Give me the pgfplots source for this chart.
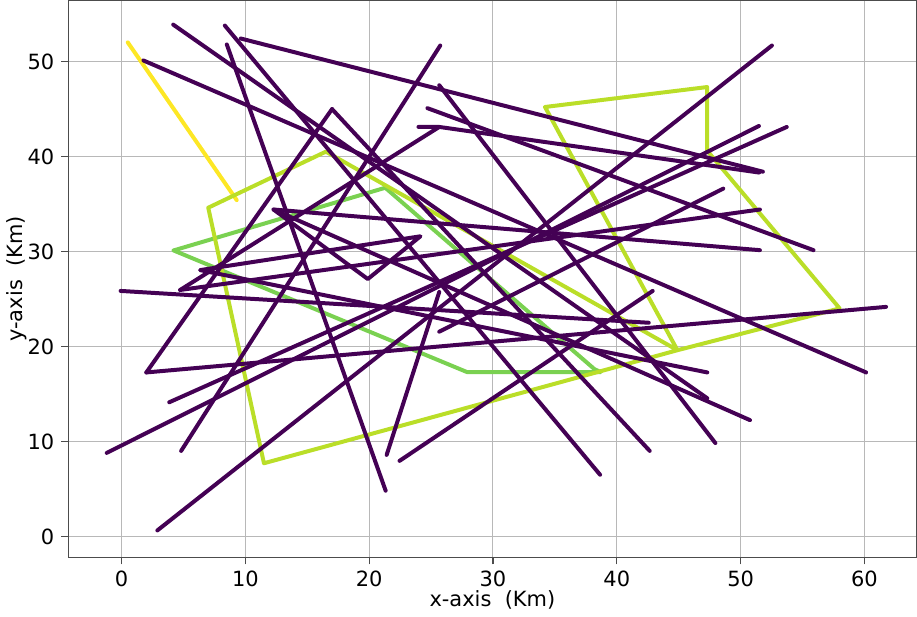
\documentclass[border=0pt]{standalone}
\usepackage{fontspec}
\setmainfont{DejaVu Sans}
\usepackage{pgfplots}
\pgfplotsset{compat=1.18}

\definecolor{vpurple}{HTML}{440154}
\definecolor{vyellow}{HTML}{FDE725}
\definecolor{vlime}{HTML}{BADE28}
\definecolor{vgreen}{HTML}{7AD151}

\begin{document}
\begin{tikzpicture}
\begin{axis}[
  scale only axis, width=425pt, height=279pt,
  xmin=-4.3, xmax=64.2, ymin=-2.2, ymax=56.4,
  xtick={0,10,...,60}, ytick={0,10,...,50},
  grid=major, grid style={line width=0.5pt, color=black!28},
  axis line style={line width=0.6pt, color=black!70},
  tick style={line width=0.6pt, color=black!70},
  tick align=outside, tick pos=left,
  major tick length=3.5pt,
  /pgf/number format/assume math mode=true,
  tick label style={font=\fontsize{10.5}{12}\selectfont},
  label style={font=\fontsize{10.5}{12}\selectfont},
  xlabel={x-axis\ \ (Km)}, ylabel={y-axis\ \ (Km)},
  xlabel style={yshift=5pt}, ylabel style={yshift=-6.5pt},
  every axis plot/.append style={line width=2pt, line cap=round, line join=round},
  p/.style={vpurple},
]
% coloured routes
\addplot[vyellow] coordinates {(0.5,52.0) (9.3,35.4)};
\addplot[vgreen] coordinates {(4.2,30.1) (21.3,36.7) (38.2,17.6) (38.7,17.3) (27.9,17.3) (4.2,30.1)};
\addplot[vlime] coordinates {(7.0,34.6) (16.5,40.5) (44.9,19.6) (34.2,45.2) (47.3,47.3) (47.3,40.6) (58.0,24.0) (44.9,19.6) (11.5,7.7) (7.0,34.6)};
% purple routes
\addplot[p] coordinates {(4.17,53.87) (47.31,14.54)};
\addplot[p] coordinates {(8.34,53.77) (38.65,6.49)};
\addplot[p] coordinates {(8.50,51.78) (21.33,4.81)};
\addplot[p] coordinates {(9.62,52.41) (51.80,38.39)};
\addplot[p] coordinates {(1.76,50.10) (60.14,17.26)};
\addplot[p] coordinates {(25.74,51.67) (4.81,9.00)};
\addplot[p] coordinates {(52.53,51.67) (2.89,0.63)};
\addplot[p] coordinates {(17.00,44.98) (2.00,17.26)};
\addplot[p] coordinates {(17.00,44.98) (42.66,9.00)};
\addplot[p] coordinates {(25.66,47.49) (47.96,9.83)};
\addplot[p] coordinates {(24.70,45.08) (55.89,30.13)};
\addplot[p] coordinates {(23.98,43.10) (25.66,43.10) (51.50,38.30)};
\addplot[p] coordinates {(25.66,43.10) (4.73,25.94)};
\addplot[p] coordinates {(51.48,43.20) (-1.20,8.79)};
\addplot[p] coordinates {(53.73,43.10) (3.85,14.12)};
\addplot[p] coordinates {(48.60,36.61) (25.66,21.55)};
\addplot[p] coordinates {(4.73,25.94) (51.56,34.41)};
\addplot[p] coordinates {(51.56,30.13) (12.27,34.41) (19.89,27.09) (24.14,31.59) (6.34,28.03) (47.31,17.26)};
\addplot[p] coordinates {(12.27,34.41) (50.76,12.24)};
\addplot[p] coordinates {(42.90,25.84) (22.45,7.95)};
\addplot[p] coordinates {(21.41,8.58) (25.66,25.73)};
\addplot[p] coordinates {(-0.08,25.84) (42.58,22.49)};
\addplot[p] coordinates {(2.00,17.26) (61.75,24.16)};
\end{axis}
\end{tikzpicture}
\end{document}
